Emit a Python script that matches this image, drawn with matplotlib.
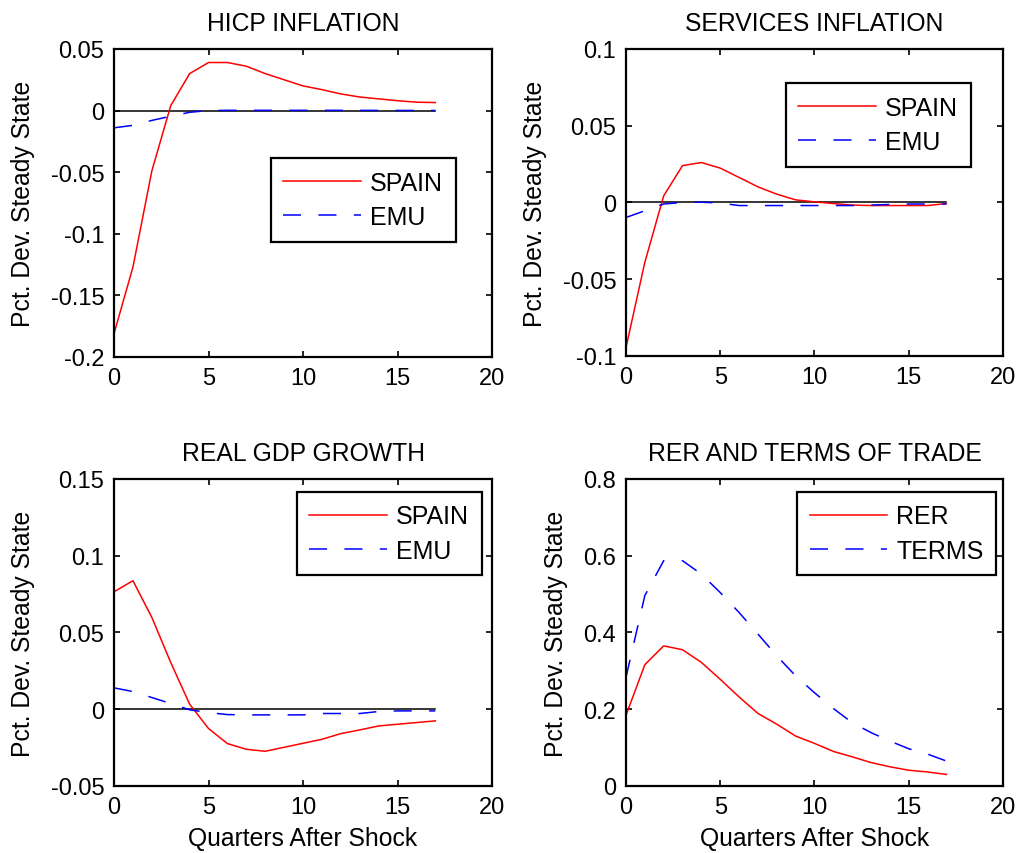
import matplotlib
matplotlib.use("Agg")
import matplotlib.pyplot as plt
from matplotlib.ticker import FormatStrFormatter

plt.rcParams['font.family'] = ['Liberation Sans', 'DejaVu Sans']
plt.rcParams['axes.unicode_minus'] = False
plt.rcParams['lines.scale_dashes'] = False

# impulse responses, quarters 0..17
quarters = list(range(18))

hicp_spain = [-0.181, -0.127, -0.049, 0.004, 0.030, 0.039, 0.039, 0.036, 0.030, 0.025,
              0.020, 0.017, 0.0135, 0.011, 0.0095, 0.008, 0.0068, 0.0065]
hicp_emu = [-0.014, -0.012, -0.008, -0.0046, -0.0014, 0.0, 0.0002, 0.0002, 0.0002, 0.0002,
            0.0002, 0.0002, 0.0002, 0.0002, 0.0001, 0.0001, 0.0001, 0.0001]

serv_spain = [-0.0946, -0.039, 0.0043, 0.024, 0.026, 0.0224, 0.0163, 0.0102, 0.0054, 0.0017,
              0.0004, -0.0007, -0.0017, -0.002, -0.002, -0.002, -0.002, -0.0007]
serv_emu = [-0.0098, -0.0054, -0.001, 0.0, 0.0002, -0.0004, -0.002, -0.002, -0.002, -0.002,
            -0.002, -0.002, -0.002, -0.0017, -0.0013, -0.001, -0.001, -0.001]

gdp_spain = [0.0765, 0.0837, 0.0598, 0.0304, 0.0033, -0.0126, -0.0224, -0.0261, -0.0274, -0.0248,
             -0.0222, -0.0196, -0.0159, -0.0135, -0.0109, -0.0098, -0.0087, -0.0076]
gdp_emu = [0.0139, 0.0115, 0.0076, 0.0037, -0.0004, -0.0022, -0.0035, -0.0037, -0.0037, -0.0037,
           -0.0037, -0.0028, -0.0028, -0.0028, -0.0015, -0.0011, -0.0011, -0.0011]

rer = [0.184, 0.316, 0.365, 0.355, 0.322, 0.278, 0.232, 0.189, 0.161, 0.130,
       0.111, 0.090, 0.076, 0.061, 0.050, 0.041, 0.0365, 0.030]
terms = [0.283, 0.496, 0.587, 0.587, 0.552, 0.504, 0.452, 0.396, 0.339, 0.287,
         0.243, 0.202, 0.165, 0.139, 0.117, 0.097, 0.083, 0.065]

panels = [
    dict(title='HICP INFLATION', a=hicp_spain, b=hicp_emu, names=('SPAIN', 'EMU'),
         ylim=(-0.2, 0.05), yticks=[-0.2, -0.15, -0.1, -0.05, 0, 0.05], zero=True,
         rect=[0.1117, 0.5808, 0.3702, 0.3607], leg=(0.415, 0.646)),
    dict(title='SERVICES INFLATION', a=serv_spain, b=serv_emu, names=('SPAIN', 'EMU'),
         ylim=(-0.1, 0.1), yticks=[-0.1, -0.05, 0, 0.05, 0.1], zero=True,
         rect=[0.6131, 0.5820, 0.3692, 0.3595], leg=(0.424, 0.889)),
    dict(title='REAL GDP GROWTH', a=gdp_spain, b=gdp_emu, names=('SPAIN', 'EMU'),
         ylim=(-0.05, 0.15), yticks=[-0.05, 0, 0.05, 0.1, 0.15], zero=True,
         rect=[0.1117, 0.0785, 0.3702, 0.3595], leg=(0.484, 0.958)),
    dict(title='RER AND TERMS OF TRADE', a=rer, b=terms, names=('RER', 'TERMS'),
         ylim=(0, 0.8), yticks=[0, 0.2, 0.4, 0.6, 0.8], zero=False,
         rect=[0.6131, 0.0785, 0.3692, 0.3595], leg=(0.454, 0.958)),
]

fig = plt.figure(figsize=(10.21, 8.54), dpi=100)

for i, p in enumerate(panels):
    ax = fig.add_axes(p['rect'])
    if p['zero']:
        ax.plot([quarters[0], quarters[-1]], [0, 0], color='black', lw=1.1)
    ax.plot(quarters, p['a'], color='red', lw=1.1, label=p['names'][0])
    ax.plot(quarters, p['b'], color='blue', lw=1.1, dashes=(13, 12.5), label=p['names'][1])
    ax.set_xlim(0, 20)
    ax.set_ylim(*p['ylim'])
    ax.set_xticks([0, 5, 10, 15, 20])
    ax.set_yticks(p['yticks'])
    ax.yaxis.set_major_formatter(FormatStrFormatter('%g'))
    ax.tick_params(direction='in', top=True, right=True, length=4, width=1.2,
                   labelsize=17, pad=7)
    for s in ax.spines.values():
        s.set_linewidth(1.6)
    ax.set_title(p['title'], fontsize=17.8, pad=14)
    ax.set_ylabel('Pct. Dev. Steady State', fontsize=17.8, labelpad=11)
    if i >= 2:
        ax.set_xlabel('Quarters After Shock', fontsize=17.8, labelpad=6)
    leg = ax.legend(loc='upper left', bbox_to_anchor=p['leg'], fontsize=18,
                    fancybox=False, framealpha=1, edgecolor='black',
                    handlelength=3.1, handletextpad=0.37, borderpad=0.5,
                    labelspacing=0.42, borderaxespad=0)
    leg.get_frame().set_linewidth(1.6)

fig.savefig('out.png', dpi=100)
